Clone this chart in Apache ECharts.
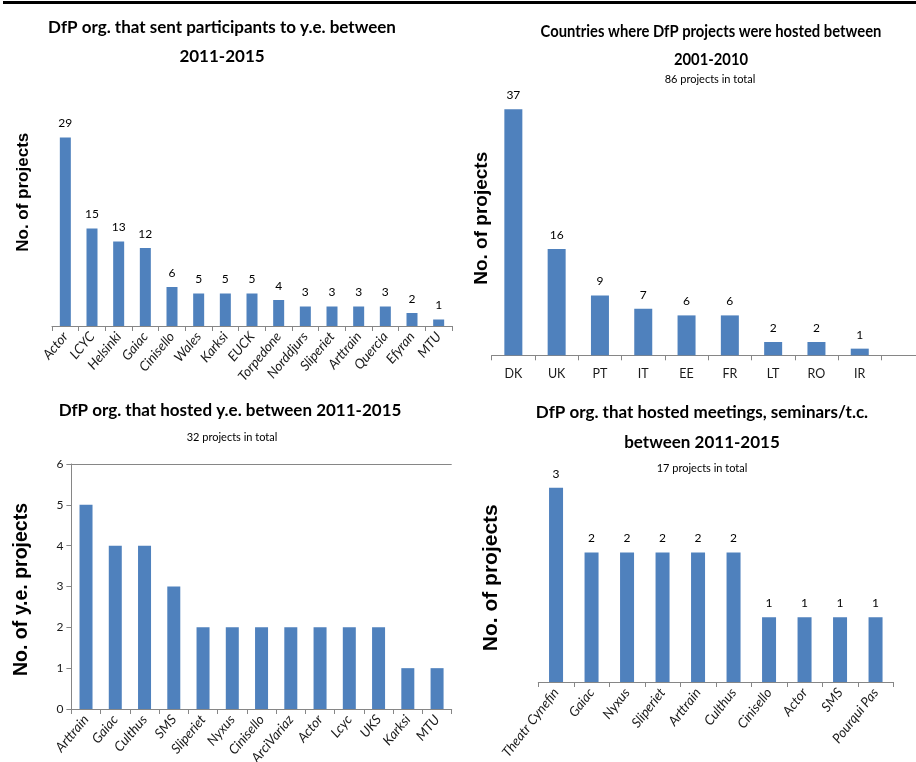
<!DOCTYPE html>
<html>
<head>
<meta charset="utf-8">
<script src="https://cdn.jsdelivr.net/npm/echarts@6/dist/echarts.min.js"></script>
<style>
html,body{margin:0;padding:0;background:#fff;}
#chart{width:916px;height:762px;}
</style>
</head>
<body>
<div id="chart"></div>
<script>
// Chart 1: DfP org. that sent participants to y.e. 2011-2015
const sentOrgs = ['Actor','LCYC','Helsinki','Gaiac','Cinisello','Wales','Karksi','EUCK','Torpedone','Norddjurs','Sliperiet','Arttrain','Quercia','Efyran','MTU'];
const sentCounts = [29,15,13,12,6,5,5,5,4,3,3,3,3,2,1];

// Chart 2: Countries where DfP projects were hosted 2001-2010
const countries = ['DK','UK','PT','IT','EE','FR','LT','RO','IR'];
const countryCounts = [37,16,9,7,6,6,2,2,1];

// Chart 3: DfP org. that hosted y.e. 2011-2015
const hostOrgs = ['Arttrain','Gaiac','Culthus','SMS','Sliperiet','Nyxus','Cinisello','ArciVariaz','Actor','Lcyc','UKS','Karksi','MTU'];
const hostCounts = [5,4,4,3,2,2,2,2,2,2,2,1,1];
const hostTicks = [0,1,2,3,4,5,6];

// Chart 4: DfP org. that hosted meetings, seminars/t.c. 2011-2015
const meetOrgs = ['Theatr Cynefin','Gaiac','Nyxus','Sliperiet','Arttrain','Culthus','Cinisello','Actor','SMS','Pourqui Pas'];
const meetCounts = [3,2,2,2,2,2,1,1,1,1];

const NARROW = 'Lato,"Noto Sans",sans-serif';
const ARIAL = '"Liberation Sans",Arial,sans-serif';
const BLUE = '#4F81BD';
const AXIS = '#868686';

function catAxis(idx, data, rotate, italic, margin, size) {
  return {
    type: 'category', gridIndex: idx, data: data,
    axisLine: {show: true, lineStyle: {color: AXIS, width: 1}},
    axisTick: {show: true, length: 5, lineStyle: {color: AXIS}},
    axisLabel: {
      interval: 0, rotate: rotate, margin: margin,
      fontFamily: NARROW, fontSize: size, color: '#1a1a1a',
      fontStyle: italic ? 'italic' : 'normal'
    }
  };
}
function valAxisHidden(idx, max, name, nameGap, nameSize, pad) {
  return {
    type: 'value', gridIndex: idx, min: 0, max: max,
    axisLine: {show: false}, axisTick: {show: false},
    axisLabel: {show: false}, splitLine: {show: false},
    name: name, nameLocation: 'middle', nameRotate: 90, nameGap: nameGap,
    nameTextStyle: {fontFamily: ARIAL, fontWeight: 'bold', fontSize: nameSize, color: '#000', padding: pad}
  };
}
function barSeries(idx, data, barWidth, showLabel) {
  return {
    type: 'bar', xAxisIndex: idx, yAxisIndex: idx, data: data,
    barWidth: barWidth, itemStyle: {color: BLUE},
    label: {show: showLabel, position: 'top', distance: 8, fontFamily: NARROW, fontSize: 12, color: '#000'},
    silent: true
  };
}

const chart = echarts.init(document.getElementById('chart'), null, {renderer: 'canvas'});

const titleStyle = {fontFamily: NARROW, fontWeight: 'bold', fontSize: 17, color: '#000'};
const subStyle = {fontFamily: NARROW, fontWeight: 'normal', fontSize: 11, color: '#000'};

const option = {
  animation: false,
  backgroundColor: '#fff',
  title: [
    {text: 'DfP org. that sent participants to y.e. between\n2011-2015', left: 222, top: 13, textAlign: 'center', padding: 0,
     textStyle: Object.assign({lineHeight: 29}, titleStyle)},
    {text: '86 projects in total', left: 710, top: 74, textAlign: 'center', padding: 0, textStyle: subStyle},
    {text: 'DfP org. that hosted y.e. between 2011-2015', left: 230, top: 397, textAlign: 'center', padding: 0,
     textStyle: Object.assign({lineHeight: 28}, titleStyle)},
    {text: '32 projects in total', left: 232, top: 432, textAlign: 'center', padding: 0, textStyle: subStyle},
    {text: 'DfP org. that hosted meetings, seminars/t.c.\nbetween 2011-2015', left: 702, top: 398, textAlign: 'center', padding: 0,
     textStyle: Object.assign({lineHeight: 30}, titleStyle)},
    {text: '17 projects in total', left: 702, top: 463, textAlign: 'center', padding: 0, textStyle: subStyle}
  ],
  grid: [
    {left: 52, top: 98.5, width: 400, height: 227.5, outerBoundsMode: 'none', containLabel: false},
    {left: 491.7, top: 89.3, width: 433, height: 266, outerBoundsMode: 'none', containLabel: false},
    {left: 71.4, top: 464, width: 380.3, height: 245, outerBoundsMode: 'none', containLabel: false},
    {left: 538.3, top: 455.5, width: 355, height: 226.5, outerBoundsMode: 'none', containLabel: false}
  ],
  xAxis: [
    catAxis(0, sentOrgs, 50, true, 8, 13.5),
    catAxis(1, countries.concat(['']), 0, false, 12, 12.5),
    catAxis(2, hostOrgs, 50, true, 8, 13.5),
    catAxis(3, meetOrgs, 52, true, 8, 13.5)
  ],
  yAxis: [
    valAxisHidden(0, 35, 'No. of projects', 20, 17, [0, 0, 0, 40]),
    valAxisHidden(1, 40, 'No. of projects', 0, 19, [0, 0, 0, 8]),
    {
      type: 'value', gridIndex: 2, min: hostTicks[0], max: hostTicks[hostTicks.length - 1], interval: 1,
      axisLine: {show: true, lineStyle: {color: AXIS}},
      axisTick: {show: true, length: 5, lineStyle: {color: AXIS}},
      axisLabel: {fontFamily: NARROW, fontSize: 12, color: '#1a1a1a', margin: 8},
      splitLine: {show: true, lineStyle: {color: ['rgba(0,0,0,0)','rgba(0,0,0,0)','rgba(0,0,0,0)','rgba(0,0,0,0)','rgba(0,0,0,0)','rgba(0,0,0,0)', AXIS]}},
      name: 'No. of y.e. projects', nameLocation: 'middle', nameRotate: 90, nameGap: 40,
      nameTextStyle: {fontFamily: ARIAL, fontWeight: 'bold', fontSize: 19.5, color: '#000', padding: [0, 6, 0, 0]}
    },
    valAxisHidden(3, 3.5, 'No. of projects', 37, 21, [0, 18, 0, 0])
  ],
  series: [
    barSeries(0, sentCounts, 11, true),
    barSeries(1, countryCounts, 18, true),
    barSeries(2, hostCounts, 13, false),
    barSeries(3, meetCounts, 14, true)
  ],
  graphic: [
    {type: 'rect', left: 3, top: 1, shape: {width: 913, height: 3}, style: {fill: '#000'}, silent: true},
    {type: 'text', x: 711, y: 18, scaleX: 0.87, silent: true,
     style: {text: 'Countries where DfP projects were hosted between\n2001-2010', textAlign: 'center', textVerticalAlign: 'top',
             font: 'bold 17px Lato, "Noto Sans", sans-serif', lineHeight: 28, fill: '#000'}}
  ]
};
chart.setOption(option);
</script>
</body>
</html>
